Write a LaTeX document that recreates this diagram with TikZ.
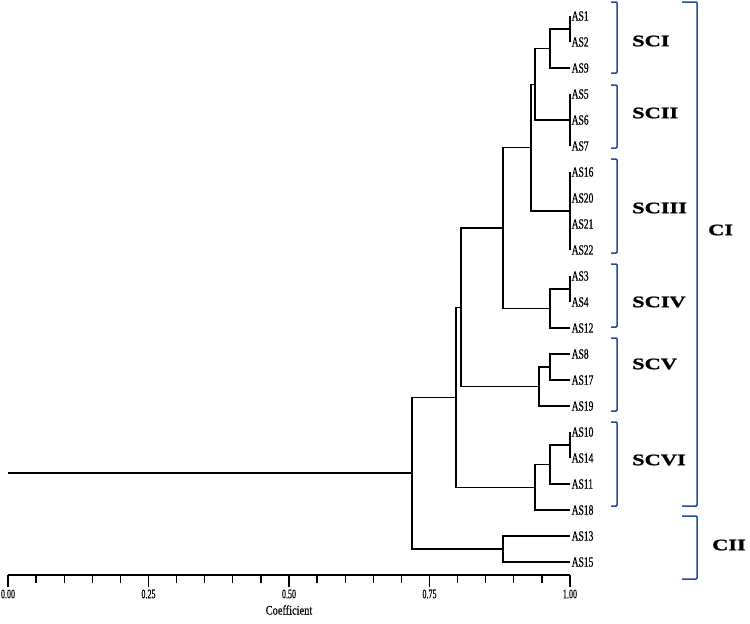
\documentclass[tikz,border=0pt]{standalone}
\usepackage{fontspec}
\setmainfont{Liberation Serif}
\newfontfamily\leaffont[FakeStretch=0.68, FakeBold=0.8]{Liberation Serif}
\newfontfamily\tickfont[FakeStretch=0.62, FakeBold=0.5]{Liberation Serif}
\newfontfamily\axisfont[FakeStretch=0.8, FakeBold=0.5]{Liberation Serif}
\newfontfamily\clusterfont[FakeStretch=1.4, FakeBold=1.2]{Liberation Serif}
\usepackage{xcolor}
\usepackage{tikz}
\definecolor{brace-blue}{RGB}{35, 75, 160}

\begin{document}
\begin{tikzpicture}[
  x=1pt, y=-1pt,
  leaf/.style={anchor=west, inner sep=1.5pt, font=\leaffont\fontsize{14}{14}\selectfont},
  branch/.style={line width=1.5pt},
  brace/.style={draw=brace-blue, line width=1.5pt, rounded corners=1pt},
  group/.style={anchor=west, inner sep=0pt, font=\clusterfont\bfseries\fontsize{16}{16}\selectfont},
  axisline/.style={line width=1.3pt},
  ticklabel/.style={inner sep=0pt, font=\tickfont\fontsize{13}{13}\selectfont}
]
  \useasboundingbox (0,0) rectangle (750,624);

  % leaves
  \foreach \n [count=\i from 0] in {1,2,9,5,6,7,16,20,21,22,3,4,12,8,17,19,10,14,11,18,13,15}
    \node[leaf] (as\n) at (570,16+26*\i) {AS\n};

  % inner joins
  \coordinate (a12) at (570,29);
  \coordinate (a129) at (550,48.5);
  \coordinate (a567) at (570,120);
  \coordinate (sc12) at (535,84.25);
  \coordinate (sc3) at (570,211);
  \coordinate (sc123) at (531,147.6);
  \coordinate (a34) at (570,289);
  \coordinate (sc4) at (550,308.5);
  \coordinate (sc1234) at (503,228);
  \coordinate (a817) at (550,367);
  \coordinate (sc5) at (539,386.5);
  \coordinate (sc12345) at (461,307.3);
  \coordinate (a1014) at (570,445);
  \coordinate (a101411) at (550,464.5);
  \coordinate (sc6) at (535,487.25);
  \coordinate (ci) at (456,397.3);
  \coordinate (cii) at (503,549);
  \coordinate (root) at (412,473.1);
  \coordinate (stem) at (8,473.1);

  \draw[branch] (as1.west) -- (as2.west);
  \draw[branch] (a12) -| (a129) |- (as9.west);
  \draw[branch] (as5.west) -- (as7.west);
  \draw[branch] (a129) -| (sc12) |- (a567);
  \draw[branch] (as16.west) -- (as22.west);
  \draw[branch] (sc12) -| (sc123) |- (sc3);
  \draw[branch] (as3.west) -- (as4.west);
  \draw[branch] (a34) -| (sc4) |- (as12.west);
  \draw[branch] (sc123) -| (sc1234) |- (sc4);
  \draw[branch] (as8.west) -| (a817) |- (as17.west);
  \draw[branch] (a817) -| (sc5) |- (as19.west);
  \draw[branch] (sc1234) -| (sc12345) |- (sc5);
  \draw[branch] (as10.west) -- (as14.west);
  \draw[branch] (a1014) -| (a101411) |- (as11.west);
  \draw[branch] (a101411) -| (sc6) |- (as18.west);
  \draw[branch] (sc12345) -| (ci) |- (sc6);
  \draw[branch] (as13.west) -| (cii) |- (as15.west);
  \draw[branch] (ci) -| (root) |- (cii);
  \draw[branch] (stem) -- (root);

  % brackets
  \foreach \lab/\top/\bot/\ly in {SCI/2/73/41, SCII/85/148/113, SCIII/159/253/208,
                                  SCIV/264/327/302, SCV/338/411/364, SCVI/422/506/460} {
    \draw[brace] (611,\top) -- (617,\top) -- (617,\bot) -- (611,\bot);
    \node[group] (\lab) at (632,\ly) {\lab};
  }
  \draw[brace] (682,2) -- (697,2) -- (697,506) -- (682,506);
  \node[group] (CI) at (708,230) {CI};
  \draw[brace] (682,516) -- (697,516) -- (697,579) -- (682,579);
  \node[group] (CII) at (712,545) {CII};

  % axis
  \draw[axisline] (8,575) -- (570,575);
  \foreach \k in {0,...,20}
    \draw[axisline] (8+28.1*\k,575) -- ++(0,8);
  \foreach \k/\v in {0/0.00, 5/0.25, 10/0.50, 15/0.75, 20/1.00} {
    \draw[axisline] (8+28.1*\k,575) -- ++(0,12);
    \node[ticklabel] (tick\k) at (8+28.1*\k,594) {\v};
  }
  \node[inner sep=0pt, font=\axisfont\fontsize{13}{13}\selectfont] (coef) at (289,610) {Coefficient};
\end{tikzpicture}
\end{document}
